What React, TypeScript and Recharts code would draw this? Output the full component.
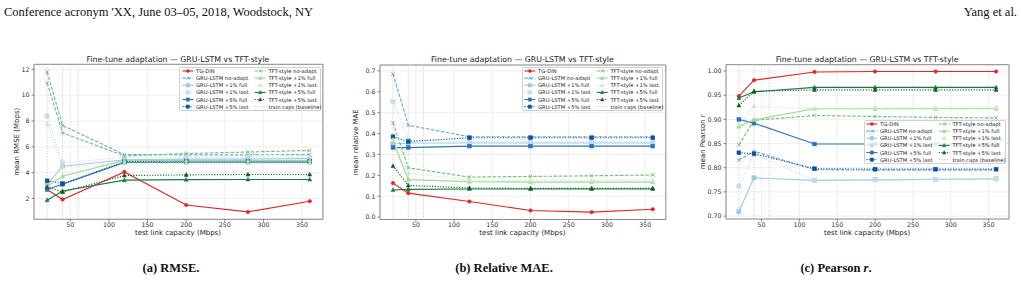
import React from 'react';
import { LineChart, Line, XAxis, YAxis, CartesianGrid, ReferenceLine, ReferenceArea } from 'recharts';

// test link capacities (Mbps) and the capacities used for training
const capacities = [20, 40, 120, 200, 280, 360];
const trainCaps = [20, 40, 60];
const xTicks = [50, 100, 150, 200, 250, 300, 350];

// mean RMSE (Mbps)
const rmseTgDin = [2.7, 1.92, 4.06, 1.5, 0.96, 1.79];
const rmseGruNoAdapt = [11.8, 7.65, 5.4, 5.38, 5.38, 5.4];
const rmseGruP1Full = [3.1, 4.5, 5.0, 5.05, 5.05, 5.1];
const rmseGruP1Last = [8.38, 4.75, 5.2, 5.2, 5.2, 5.2];
const rmseGruP5Full = [2.7, 3.1, 4.8, 4.82, 4.82, 4.82];
const rmseGruP5Last = [3.37, 3.15, 4.85, 4.9, 4.9, 4.9];
const rmseTftNoAdapt = [10.95, 7.08, 5.3, 5.48, 5.6, 5.72];
const rmseTftP1Full = [2.95, 3.72, 4.95, 4.95, 4.95, 4.95];
const rmseTftP1Last = [7.76, 4.42, 4.75, 4.72, 4.72, 4.72];
const rmseTftP5Full = [1.87, 2.58, 3.42, 3.46, 3.47, 3.47];
const rmseTftP5Last = [2.9, 2.5, 3.78, 3.83, 3.86, 3.86];

// mean relative MAE
const maeTgDin = [0.163, 0.115, 0.075, 0.032, 0.024, 0.038];
const maeGruNoAdapt = [0.685, 0.44, 0.385, 0.385, 0.385, 0.385];
const maeGruP1Full = [0.35, 0.355, 0.355, 0.355, 0.355, 0.355];
const maeGruP1Last = [0.553, 0.37, 0.362, 0.362, 0.362, 0.362];
const maeGruP5Full = [0.333, 0.333, 0.34, 0.34, 0.34, 0.34];
const maeGruP5Last = [0.385, 0.362, 0.38, 0.38, 0.38, 0.38];
const maeTftNoAdapt = [0.452, 0.236, 0.192, 0.195, 0.198, 0.202];
const maeTftP1Full = [0.362, 0.18, 0.17, 0.168, 0.168, 0.168];
const maeTftP1Last = [0.37, 0.21, 0.178, 0.176, 0.176, 0.176];
const maeTftP5Full = [0.13, 0.133, 0.135, 0.135, 0.135, 0.135];
const maeTftP5Last = [0.245, 0.152, 0.14, 0.138, 0.138, 0.138];

// mean Pearson r
const corrTgDin = [0.948, 0.981, 0.998, 0.999, 0.999, 0.999];
const corrGruNoAdapt = [0.816, 0.834, 0.796, 0.795, 0.795, 0.795];
const corrGruP1Full = [0.709, 0.779, 0.774, 0.775, 0.776, 0.777];
const corrGruP1Last = [0.762, 0.828, 0.774, 0.775, 0.776, 0.777];
const corrGruP5Full = [0.9, 0.892, 0.849, 0.849, 0.849, 0.849];
const corrGruP5Last = [0.831, 0.829, 0.798, 0.797, 0.797, 0.797];
const corrTftNoAdapt = [0.847, 0.898, 0.908, 0.906, 0.904, 0.903];
const corrTftP1Full = [0.885, 0.899, 0.922, 0.922, 0.922, 0.922];
const corrTftP1Last = [0.89, 0.927, 0.922, 0.924, 0.924, 0.925];
const corrTftP5Full = [0.944, 0.957, 0.966, 0.966, 0.966, 0.966];
const corrTftP5Last = [0.929, 0.958, 0.961, 0.961, 0.961, 0.961];

type Marker = 'circle' | 'square' | 'triangle' | 'x';
type Series = { key: string; name: string; color: string; dash?: string; marker: Marker; size: number };

const DASHED = '3.5 1.6';
const DOTTED = '1.1 1.6';

const SERIES: Series[] = [
  { key: 'tgDin', name: 'TG-DIN', color: '#e0262b', marker: 'circle', size: 3.6 },
  { key: 'gruNoAdapt', name: 'GRU-LSTM no-adapt', color: '#6baed6', dash: DASHED, marker: 'x', size: 3.6 },
  { key: 'gruP1Full', name: 'GRU-LSTM +1% full', color: '#9ecae1', marker: 'square', size: 4.2 },
  { key: 'gruP1Last', name: 'GRU-LSTM +1% last', color: '#c6dbef', dash: DOTTED, marker: 'square', size: 4.2 },
  { key: 'gruP5Full', name: 'GRU-LSTM +5% full', color: '#2c74b8', marker: 'square', size: 3.8 },
  { key: 'gruP5Last', name: 'GRU-LSTM +5% last', color: '#0b4f9a', dash: DOTTED, marker: 'square', size: 3.8 },
  { key: 'tftNoAdapt', name: 'TFT-style no-adapt', color: '#74c476', dash: DASHED, marker: 'x', size: 3.6 },
  { key: 'tftP1Full', name: 'TFT-style +1% full', color: '#a1d99b', marker: 'triangle', size: 4.2 },
  { key: 'tftP1Last', name: 'TFT-style +1% last', color: '#c7e9c0', dash: DOTTED, marker: 'triangle', size: 4.2 },
  { key: 'tftP5Full', name: 'TFT-style +5% full', color: '#1d7a3c', marker: 'triangle', size: 4.0 },
  { key: 'tftP5Last', name: 'TFT-style +5% last', color: '#0b5a2b', dash: DOTTED, marker: 'triangle', size: 4.0 },
];

const rmseTable: Record<string, number[]> = {
  tgDin: rmseTgDin, gruNoAdapt: rmseGruNoAdapt, gruP1Full: rmseGruP1Full, gruP1Last: rmseGruP1Last,
  gruP5Full: rmseGruP5Full, gruP5Last: rmseGruP5Last, tftNoAdapt: rmseTftNoAdapt, tftP1Full: rmseTftP1Full,
  tftP1Last: rmseTftP1Last, tftP5Full: rmseTftP5Full, tftP5Last: rmseTftP5Last,
};
const maeTable: Record<string, number[]> = {
  tgDin: maeTgDin, gruNoAdapt: maeGruNoAdapt, gruP1Full: maeGruP1Full, gruP1Last: maeGruP1Last,
  gruP5Full: maeGruP5Full, gruP5Last: maeGruP5Last, tftNoAdapt: maeTftNoAdapt, tftP1Full: maeTftP1Full,
  tftP1Last: maeTftP1Last, tftP5Full: maeTftP5Full, tftP5Last: maeTftP5Last,
};
const corrTable: Record<string, number[]> = {
  tgDin: corrTgDin, gruNoAdapt: corrGruNoAdapt, gruP1Full: corrGruP1Full, gruP1Last: corrGruP1Last,
  gruP5Full: corrGruP5Full, gruP5Last: corrGruP5Last, tftNoAdapt: corrTftNoAdapt, tftP1Full: corrTftP1Full,
  tftP1Last: corrTftP1Last, tftP5Full: corrTftP5Full, tftP5Last: corrTftP5Last,
};

const SANS = 'DejaVu Sans, sans-serif';
const X_DOMAIN: [number, number] = [3, 377];

type Box = { left: number; right: number; top: number; bottom: number };

const PANELS = [
  {
    id: 'a', box: { left: 33.5, right: 322.4, top: 64.3, bottom: 219.3 }, values: rmseTable,
    yDomain: [0.39, 12.39] as [number, number], yTicks: [2, 4, 6, 8, 10, 12], fmt: (v: number) => String(v),
    yLabel: 'mean RMSE (Mbps)', yLabelX: 16.7, legend: { left: 179.3, top: 67 },
  },
  {
    id: 'b', box: { left: 379.5, right: 665.3, top: 65, bottom: 219.5 }, values: maeTable,
    yDomain: [-0.011, 0.728] as [number, number], yTicks: [0, 0.1, 0.2, 0.3, 0.4, 0.5, 0.6, 0.7], fmt: (v: number) => v.toFixed(1),
    yLabel: 'mean relative MAE', yLabelX: 355.5, legend: { left: 521.7, top: 67 },
  },
  {
    id: 'c', box: { left: 725.6, right: 1008.6, top: 64.7, bottom: 219 }, values: corrTable,
    yDomain: [0.694, 1.013] as [number, number], yTicks: [0.7, 0.75, 0.8, 0.85, 0.9, 0.95, 1.0], fmt: (v: number) => v.toFixed(2),
    yLabel: 'mean Pearson r', yLabelX: 703, legend: { left: 864, top: 120 },
  },
];

function MarkerShape({ kind, x, y, color, size }: { kind: Marker; x: number; y: number; color: string; size: number }) {
  const h = size / 2;
  if (kind === 'circle') return <circle cx={x} cy={y} r={h} fill={color} stroke={color} strokeWidth={0.5} />;
  if (kind === 'square') return <rect x={x - h} y={y - h} width={size} height={size} fill={color} stroke={color} strokeWidth={0.5} />;
  if (kind === 'triangle') {
    const pts = `${x},${y - h * 1.1} ${x - h},${y + h * 0.8} ${x + h},${y + h * 0.8}`;
    return <polygon points={pts} fill={color} stroke={color} strokeWidth={0.5} />;
  }
  return (
    <path d={`M${x - h},${y - h}L${x + h},${y + h}M${x - h},${y + h}L${x + h},${y - h}`} stroke={color} strokeWidth={0.9} fill="none" />
  );
}

const dotFor = (s: Series) => (props: any) => {
  const { cx, cy, index } = props;
  if (cx == null || cy == null) return <g key={`${s.key}-${index}`} />;
  return (
    <g key={`${s.key}-${index}`}>
      <MarkerShape kind={s.marker} x={cx} y={cy} color={s.color} size={s.size} />
    </g>
  );
};

function Legend({ left, top }: { left: number; top: number }) {
  const w = 141.5;
  const h = 44;
  const rowH = 7.13;
  const firstRow = 4;
  const cols = [SERIES.slice(0, 6), SERIES.slice(6)];
  const colX = [2.4, 74.7];
  return (
    <div
      style={{
        position: 'absolute', left, top, width: w, height: h, boxSizing: 'border-box',
        border: '0.8px solid #d0d0d0', borderRadius: 2, background: 'rgba(255,255,255,0.85)',
      }}
    >
      <svg width={w} height={h} style={{ position: 'absolute', left: -0.8, top: -0.8, overflow: 'visible' }}>
        {cols.map((items, c) =>
          items.map((s, r) => {
            const y = firstRow + r * rowH;
            const x0 = colX[c];
            return (
              <g key={s.key}>
                <line x1={x0} x2={x0 + 11} y1={y} y2={y} stroke={s.color} strokeWidth={1.1} strokeDasharray={s.dash} />
                <MarkerShape kind={s.marker} x={x0 + 5.5} y={y} color={s.color} size={s.size * 0.85} />
                <text x={x0 + 13.7} y={y} fontSize={5.2} fontFamily={SANS} fill="#222" dominantBaseline="central">
                  {s.name}
                </text>
              </g>
            );
          }),
        )}
        <line x1={colX[1]} x2={colX[1] + 11} y1={firstRow + 5 * rowH} y2={firstRow + 5 * rowH} stroke="#bdbdbd" strokeWidth={0.9} strokeDasharray={DOTTED} />
        <text x={colX[1] + 13.7} y={firstRow + 5 * rowH} fontSize={5.2} fontFamily={SANS} fill="#222" dominantBaseline="central">
          train caps (baseline)
        </text>
      </svg>
    </div>
  );
}

function Panel({ box, values, yDomain, yTicks, fmt }: { box: Box; values: Record<string, number[]>; yDomain: [number, number]; yTicks: number[]; fmt: (v: number) => string }) {
  const rows = capacities.map((cap, i) => {
    const row: Record<string, number> = { cap };
    SERIES.forEach((s) => { row[s.key] = values[s.key][i]; });
    return row;
  });
  const yAxisW = 30;
  const xAxisH = 16;
  const width = box.right - box.left + yAxisW + 3;
  const height = box.bottom + xAxisH + 3;
  const tick = { fontSize: 6.3, fill: '#333', fontFamily: SANS };
  return (
    <div style={{ position: 'absolute', left: box.left - yAxisW, top: 0 }}>
      <LineChart width={width} height={height} data={rows} margin={{ top: box.top, right: 3, left: 0, bottom: 3 }}>
        <CartesianGrid stroke="#ebebeb" strokeWidth={0.8} />
        <XAxis
          dataKey="cap" type="number" domain={X_DOMAIN} ticks={xTicks} allowDataOverflow
          axisLine={false} tickLine={{ stroke: '#555', strokeWidth: 0.7 }} tickSize={2.5} tickMargin={1} height={xAxisH} tick={tick}
        />
        <YAxis
          type="number" domain={yDomain} ticks={yTicks} allowDataOverflow tickFormatter={fmt}
          axisLine={false} tickLine={{ stroke: '#555', strokeWidth: 0.7 }} tickSize={2.5} tickMargin={2} width={yAxisW} tick={tick}
        />
        {trainCaps.map((c) => (
          <ReferenceLine key={c} x={c} stroke="#bdbdbd" strokeWidth={0.8} strokeDasharray={DOTTED} />
        ))}
        {SERIES.map((s) => (
          <Line
            key={s.key} dataKey={s.key} type="linear" stroke={s.color} strokeWidth={1.15}
            strokeDasharray={s.dash} dot={dotFor(s)} activeDot={false} isAnimationActive={false}
          />
        ))}
        <ReferenceArea x1={X_DOMAIN[0]} x2={X_DOMAIN[1]} y1={yDomain[0]} y2={yDomain[1]} fill="none" fillOpacity={0} stroke="#7f7f7f" strokeWidth={0.9} />
      </LineChart>
    </div>
  );
}

export default function App() {
  const captions = [
    { x: 171, text: '(a) RMSE.' },
    { x: 504, text: '(b) Relative MAE.' },
  ];
  return (
    <div style={{ position: 'absolute', left: 0, top: 0, width: 1021, height: 281, background: '#fff', overflow: 'hidden' }}>
      {PANELS.map((p) => (
        <React.Fragment key={p.id}>
          <Panel box={p.box} values={p.values} yDomain={p.yDomain} yTicks={p.yTicks} fmt={p.fmt} />
          <Legend left={p.legend.left} top={p.legend.top} />
        </React.Fragment>
      ))}
      <svg width={1021} height={281} style={{ position: 'absolute', left: 0, top: 0, pointerEvents: 'none' }}>
        <text x={4} y={15.5} fontSize={12.5} fontFamily="Liberation Serif, serif" fill="#111">
          Conference acronym 'XX, June 03–05, 2018, Woodstock, NY
        </text>
        <text x={1017} y={15.5} fontSize={12.5} fontFamily="Liberation Serif, serif" fill="#111" textAnchor="end">
          Yang et al.
        </text>
        {PANELS.map((p) => {
          const cx = (p.box.left + p.box.right) / 2;
          const cy = (p.box.top + p.box.bottom) / 2;
          return (
            <g key={p.id} fontFamily={SANS} fill="#222">
              <text x={cx} y={59.3} fontSize={7.8} textAnchor="middle" dominantBaseline="central">
                Fine-tune adaptation — GRU-LSTM vs TFT-style
              </text>
              <text x={cx} y={233.3} fontSize={7} textAnchor="middle" dominantBaseline="central">
                test link capacity (Mbps)
              </text>
              <text x={p.yLabelX} y={cy} fontSize={7} textAnchor="middle" dominantBaseline="central" transform={`rotate(-90 ${p.yLabelX} ${cy})`}>
                {p.yLabel}
              </text>
            </g>
          );
        })}
        {captions.map((c) => (
          <text key={c.text} x={c.x} y={272} fontSize={12.5} fontWeight="bold" fontFamily="Liberation Serif, serif" fill="#111" textAnchor="middle">
            {c.text}
          </text>
        ))}
        <text x={836} y={272} fontSize={12.5} fontWeight="bold" fontFamily="Liberation Serif, serif" fill="#111" textAnchor="middle">
          (c) Pearson <tspan fontStyle="italic">r</tspan>.
        </text>
      </svg>
    </div>
  );
}
